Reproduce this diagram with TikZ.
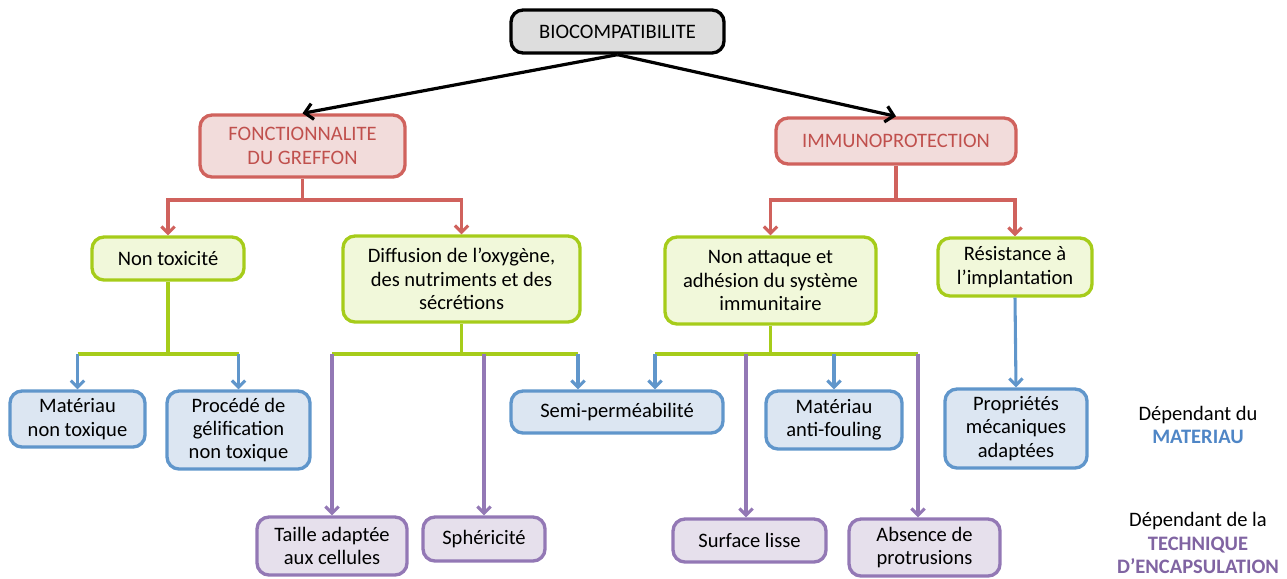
\documentclass[tikz,border=0pt]{standalone}
\usepackage{fontspec}
\setmainfont{Carlito}
\usetikzlibrary{arrows.meta}
\definecolor{redc}{HTML}{D0625D}
\definecolor{redfill}{HTML}{F2DCDB}
\definecolor{redtext}{HTML}{C0504D}
\definecolor{limec}{HTML}{A6CC1A}
\definecolor{limefill}{HTML}{F1F8DA}
\definecolor{bluec}{HTML}{6096CB}
\definecolor{bluefill}{HTML}{DCE6F2}
\definecolor{bluetext}{HTML}{4F86C6}
\definecolor{purpc}{HTML}{9378B5}
\definecolor{purpfill}{HTML}{E6E0EC}
\definecolor{purptext}{HTML}{8064A2}
\definecolor{grayfill}{HTML}{DDDDDD}
\begin{document}
\begin{tikzpicture} [
				x=0.75pt, y=-0.75pt,
				font=\fontsize{15.4}{17.4}\selectfont,
				box/.style={draw, line width=2.5pt, rounded corners=9pt, align=center, inner sep=0pt},
				topbox/.style={box, draw=black, fill=grayfill},
				redbox/.style={box, draw=redc, fill=redfill, text=redtext},
				limebox/.style={box, draw=limec, fill=limefill},
				bluebox/.style={box, draw=bluec, fill=bluefill},
				purpbox/.style={box, draw=purpc, fill=purpfill},
				blackarrow/.style={draw=black, line width=2.4pt, -{Straight Barb[length=6pt,width=12pt,line width=2.4pt]}},
				redarrow/.style={draw=redc, line width=2.3pt, -{Straight Barb[length=5pt,width=10pt,line width=2.3pt]}},
				limeline/.style={draw=limec, line width=2.3pt},
				bluearrow/.style={draw=bluec, line width=2.3pt, -{Straight Barb[length=5pt,width=10pt,line width=2.3pt]}},
				purparrow/.style={draw=purpc, line width=2.3pt, -{Straight Barb[length=5pt,width=10pt,line width=2.3pt]}}
			]
			\useasboundingbox (0,0) rectangle (1287,578);
			\node[topbox, minimum width=159.75pt, minimum height=32.25pt] (bio) at (617.5,31.5) {BIOCOMPATIBILITE};
			\node[redbox, minimum width=153.75pt, minimum height=46.5pt] (fonc) at (302.5,146) {FONCTIONNALITE\\DU GREFFON};
			\node[redbox, minimum width=180pt, minimum height=34.5pt] (immuno) at (896,141) {IMMUNOPROTECTION};
			\node[limebox, minimum width=114pt, minimum height=32.25pt] (nontox) at (168,258.5) {Non toxicité};
			\node[limebox, minimum width=177.75pt, minimum height=64.5pt] (diff) at (461.5,279) {Diffusion de l’oxygène,\\des nutriments et des\\sécrétions};
			\node[limebox, minimum width=158.25pt, minimum height=65.25pt] (attaque) at (770.5,280.5) {Non attaque et\\adhésion du système\\immunitaire};
			\node[limebox, minimum width=115.5pt, minimum height=43.5pt] (resist) at (1015,267) {Résistance à\\l’implantation};
			\node[bluebox, minimum width=101.25pt, minimum height=42pt] (mat) at (77.5,419) {Matériau\\non toxique};
			\node[bluebox, minimum width=107.25pt, minimum height=58.5pt] (proc) at (238.5,430) {Procédé de\\gélification\\non toxique};
			\node[bluebox, minimum width=159pt, minimum height=31.5pt] (semi) at (617,412) {Semi-perméabilité};
			\node[bluebox, minimum width=102pt, minimum height=43.5pt] (fouling) at (834,420) {Matériau\\anti-fouling};
			\node[bluebox, minimum width=106.5pt, minimum height=59.25pt] (propr) at (1016,428.5) {Propriétés\\mécaniques\\adaptées};
			\node[purpbox, minimum width=112.5pt, minimum height=43.5pt] (taille) at (332,546) {Taille adaptée\\aux cellules};
			\node[purpbox, minimum width=91.5pt, minimum height=33pt] (spher) at (484,539) {Sphéricité};
			\node[purpbox, minimum width=114.75pt, minimum height=32.25pt] (surf) at (749.5,540.5) {Surface lisse};
			\node[purpbox, minimum width=113.25pt, minimum height=42.75pt] (absence) at (924.5,547.5) {Absence de\\protrusions};
			\node[align=center] (legmat) at (1198,425) {Dépendant du\\\textcolor{bluetext}{\textbf{MATERIAU}}};
			\node[align=center] (legtech) at (1198,543) {Dépendant de la\\\textcolor{purptext}{\textbf{TECHNIQUE}}\\\textcolor{purptext}{\textbf{D’ENCAPSULATION}}};
			\draw[blackarrow] (bio.south) -- (fonc.north);
			\draw[blackarrow] (bio.south) -- (immuno.north);
			\coordinate (fj) at (302.5,200);
			\draw[redarrow] (fonc.south) -- (fj) -| (nontox.north);
			\draw[redarrow] (fj) -| (diff.north);
			\coordinate (ij) at (896,200);
			\draw[redarrow] (immuno.south) -- (ij) -| (attaque.north);
			\draw[redarrow] (ij) -| (resist.north);
			\coordinate (nj) at (168,354);
			\draw[limeline] (nontox.south) -- (nj);
			\draw[limeline] (mat.north |- nj) -- (proc.north |- nj);
			\draw[bluearrow] (mat.north |- nj) -- (mat.north);
			\draw[bluearrow] (proc.north |- nj) -- (proc.north);
			\coordinate (dj) at (461.5,354);
			\coordinate (d3) at (578,354);
			\draw[limeline] (diff.south) -- (dj);
			\draw[limeline] (taille.north |- dj) -- (d3);
			\draw[purparrow] (taille.north |- dj) -- (taille.north);
			\draw[purparrow] (spher.north |- dj) -- (spher.north);
			\draw[bluearrow] (d3) -- (d3 |- semi.north);
			\coordinate (aj) at (770.5,354);
			\coordinate (a1) at (655,354);
			\coordinate (a2) at (746,354);
			\coordinate (a4) at (918,354);
			\draw[limeline] (attaque.south) -- (aj);
			\draw[limeline] (a1) -- (a4);
			\draw[bluearrow] (a1) -- (a1 |- semi.north);
			\draw[purparrow] (a2) -- (a2 |- surf.north);
			\draw[bluearrow] (fouling.north |- aj) -- (fouling.north);
			\draw[purparrow] (a4) -- (a4 |- absence.north);
			\draw[bluearrow] (resist.south) -- (propr.north);
		\end{tikzpicture}
\end{document}
